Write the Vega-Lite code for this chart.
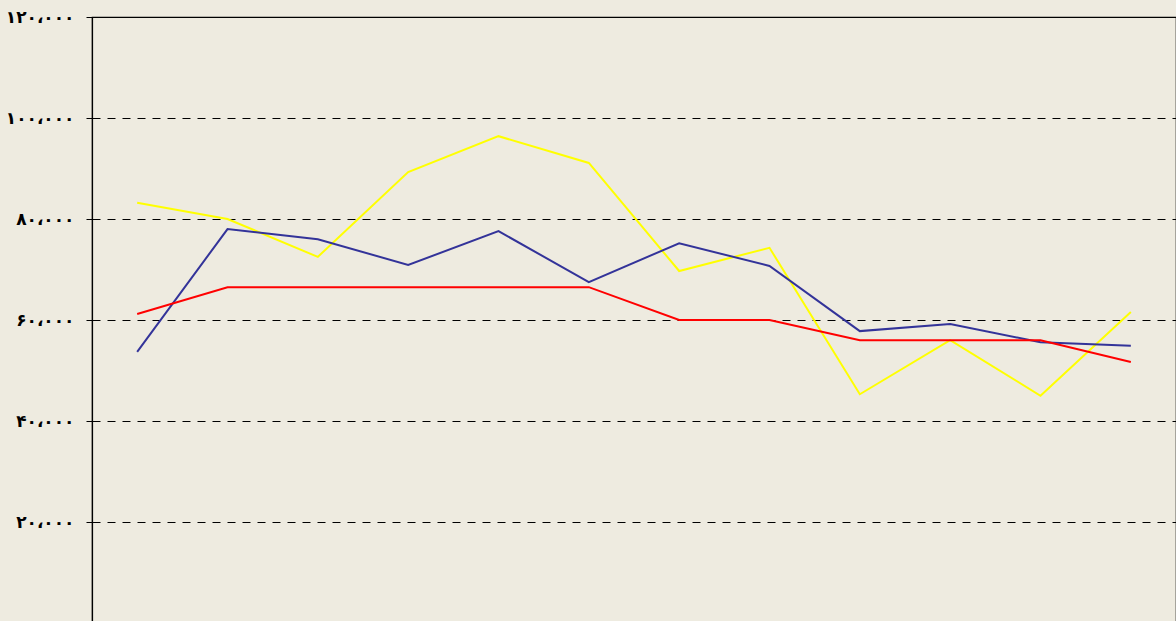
{
  "$schema": "https://vega.github.io/schema/vega-lite/v6.json",
  "width": 1084,
  "height": 606,
  "autosize": {"type": "none"},
  "padding": {"left": 92, "top": 17, "right": 0, "bottom": 0},
  "background": "#EEEBE0",
  "config": {
    "view": {"stroke": "#000000", "strokeWidth": 1.2, "fill": "#EEEBE0"}
  },
  "data": {
    "values": [
      {"x": 1, "s": "yellow", "v": 83200},
      {"x": 2, "s": "yellow", "v": 80000},
      {"x": 3, "s": "yellow", "v": 72500},
      {"x": 4, "s": "yellow", "v": 89300},
      {"x": 5, "s": "yellow", "v": 96400},
      {"x": 6, "s": "yellow", "v": 91100},
      {"x": 7, "s": "yellow", "v": 69700},
      {"x": 8, "s": "yellow", "v": 74300},
      {"x": 9, "s": "yellow", "v": 45300},
      {"x": 10, "s": "yellow", "v": 56000},
      {"x": 11, "s": "yellow", "v": 45000},
      {"x": 12, "s": "yellow", "v": 61600},
      {"x": 1, "s": "blue", "v": 53700},
      {"x": 2, "s": "blue", "v": 78000},
      {"x": 3, "s": "blue", "v": 76000},
      {"x": 4, "s": "blue", "v": 70900},
      {"x": 5, "s": "blue", "v": 77600},
      {"x": 6, "s": "blue", "v": 67500},
      {"x": 7, "s": "blue", "v": 75200},
      {"x": 8, "s": "blue", "v": 70700},
      {"x": 9, "s": "blue", "v": 57800},
      {"x": 10, "s": "blue", "v": 59200},
      {"x": 11, "s": "blue", "v": 55600},
      {"x": 12, "s": "blue", "v": 54900},
      {"x": 1, "s": "red", "v": 61200},
      {"x": 2, "s": "red", "v": 66500},
      {"x": 3, "s": "red", "v": 66500},
      {"x": 4, "s": "red", "v": 66500},
      {"x": 5, "s": "red", "v": 66500},
      {"x": 6, "s": "red", "v": 66500},
      {"x": 7, "s": "red", "v": 60000},
      {"x": 8, "s": "red", "v": 60000},
      {"x": 9, "s": "red", "v": 56000},
      {"x": 10, "s": "red", "v": 56000},
      {"x": 11, "s": "red", "v": 56000},
      {"x": 12, "s": "red", "v": 51700}
    ]
  },
  "mark": {"type": "line", "strokeWidth": 2},
  "encoding": {
    "x": {
      "field": "x",
      "type": "ordinal",
      "scale": {"type": "point", "padding": 0.5},
      "axis": null
    },
    "y": {
      "field": "v",
      "type": "quantitative",
      "scale": {"domain": [0, 120000], "nice": false},
      "axis": {
        "values": [20000, 40000, 60000, 80000, 100000, 120000],
        "title": null,
        "domain": true,
        "domainColor": "#000000",
        "domainWidth": 1.2,
        "ticks": true,
        "tickColor": "#000000",
        "tickSize": 6,
        "grid": true,
        "gridColor": "#000000",
        "gridDash": [8, 7],
        "gridWidth": 1,
        "labelFont": "DejaVu Sans",
        "labelFontWeight": "bold",
        "labelFontSize": 17,
        "labelColor": "#000000",
        "labelPadding": 12,
        "labelExpr": "replace(replace(replace(replace(replace(replace(replace(format(datum.value, ','), regexp('0','g'), '۰'), regexp('1','g'), '۱'), regexp('2','g'), '۲'), regexp('4','g'), '۴'), regexp('6','g'), '۶'), regexp('8','g'), '۸'), regexp(',','g'), '،')"
      }
    },
    "color": {
      "field": "s",
      "type": "nominal",
      "scale": {"domain": ["yellow", "blue", "red"], "range": ["#FFFF00", "#333399", "#FF0000"]},
      "legend": null
    }
  }
}
